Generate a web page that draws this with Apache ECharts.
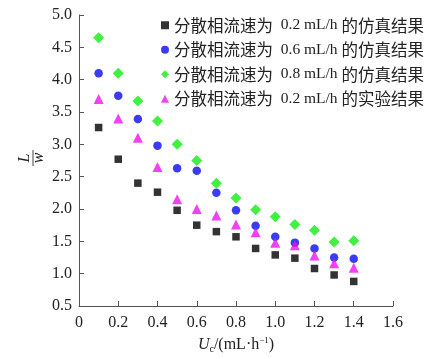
<!DOCTYPE html>
<html><head><meta charset="utf-8">
<script src="https://cdn.jsdelivr.net/npm/echarts@6/dist/echarts.min.js"></script>
<style>html,body{margin:0;padding:0;background:#fff}#c{width:440px;height:359px}</style>
</head><body><div id="c"></div>
<script>
const xValues = [0.1,0.2,0.3,0.4,0.5,0.6,0.7,0.8,0.9,1.0,1.1,1.2,1.3,1.4];
const sim02 = [3.26,2.77,2.40,2.26,1.98,1.75,1.65,1.57,1.39,1.29,1.24,1.08,0.98,0.88];
const sim06 = [4.10,3.75,3.39,2.98,2.63,2.59,2.25,1.98,1.74,1.57,1.48,1.39,1.25,1.23];
const sim08 = [4.65,4.10,3.67,3.36,3.00,2.75,2.40,2.17,1.99,1.88,1.76,1.67,1.49,1.51];
const exp02 = [3.70,3.40,3.10,2.65,2.15,2.00,1.90,1.76,1.64,1.48,1.44,1.28,1.16,1.09];
const seriesNames = ['分散相流速为 0.2 mL/h 的仿真结果','分散相流速为 0.6 mL/h 的仿真结果','分散相流速为 0.8 mL/h 的仿真结果','分散相流速为 0.2 mL/h 的实验结果'];
const xTicks = ['0','0.2','0.4','0.6','0.8','1.0','1.2','1.4','1.6'];

const serif = '"Liberation Serif",serif';
const cjk = '"Noto Sans CJK SC",sans-serif';
const pair = arr => xValues.map((x,i)=>[x,arr[i]]);
const chart = echarts.init(document.getElementById('c'));
const specs = [
  {data: sim02, symbol:'rect', size:7.5, color:'#000000'},
  {data: sim06, symbol:'circle', size:8.5, color:'#0a0aee'},
  {data: sim08, symbol:'diamond', size:11, color:'#11ee11'},
  {data: exp02, symbol:'triangle', size:10, color:'#ee11ee'}
];
// split legend name into rich text parts
const legendFmt = (name) => {
  const m = name.match(/^(\S+) (\S+ \S+) (\S+)$/);
  return '{c|' + m[1] + '}{l|  ' + m[2] + ' }{c|' + m[3] + '}';
};
chart.setOption({
  animation:false,
  grid:{left:79,right:47,top:15,bottom:52,containLabel:false},
  legend:{
    orient:'vertical', left:156, top:12, itemGap:8, itemWidth:8, itemHeight:8,
    formatter: legendFmt,
    textStyle:{color:'#222',fontSize:16,
      rich:{
        c:{fontFamily:cjk,fontSize:16.5,color:'#222'},
        l:{fontFamily:serif,fontSize:15.5,color:'#222'}
      }},
    data: seriesNames.map((n,i)=>({name:n, icon:specs[i].symbol,
      itemStyle:{color:specs[i].color}}))
  },
  xAxis:{
    type:'value', min:0, max:1.6, interval:0.2,
    axisLine:{show:true,lineStyle:{color:'#555',width:1}},
    axisTick:{show:true,inside:true,length:5,lineStyle:{color:'#555'}},
    splitLine:{show:false},
    axisLabel:{fontFamily:serif,fontSize:16,color:'#222',margin:9,
      formatter:(v)=>xTicks[Math.round(v/0.2)]},
    name:'{u|U}{s|c}{t|/(mL·h}{p|−1}{t|)}', nameLocation:'middle', nameGap:30,
    nameTextStyle:{rich:{
      u:{fontFamily:serif,fontStyle:'italic',fontSize:16,color:'#222'},
      s:{fontFamily:serif,fontSize:10,color:'#222',verticalAlign:'bottom',padding:[8,0,0,0]},
      t:{fontFamily:serif,fontSize:16,color:'#222'},
      p:{fontFamily:serif,fontSize:9,color:'#222',verticalAlign:'top',padding:[0,0,8,0]}
    }}
  },
  yAxis:{
    type:'value', min:0.5, max:5.0, interval:0.5,
    axisLine:{show:true,lineStyle:{color:'#555',width:1}},
    axisTick:{show:true,inside:true,length:5,lineStyle:{color:'#555'}},
    splitLine:{show:false},
    axisLabel:{fontFamily:serif,fontSize:16,color:'#222',margin:7,
      formatter:(v)=>v.toFixed(1)}
  },
  graphic:[{
    type:'group', x:33, y:158, rotation:Math.PI/2,
    children:[
      {type:'text', x:0, y:-8, style:{text:'L',font:'italic 16px "Liberation Serif"',fill:'#222',align:'center',verticalAlign:'middle'}},
      {type:'line', shape:{x1:-8,y1:0,x2:8,y2:0}, style:{stroke:'#444',lineWidth:1}},
      {type:'text', x:0, y:6, style:{text:'w',font:'italic 16px "Liberation Serif"',fill:'#222',align:'center',verticalAlign:'middle'}}
    ]
  }],
  series: specs.map((s,i)=>({
    name:seriesNames[i], type:'scatter', symbol:s.symbol, symbolSize:s.size,
    itemStyle:{color:s.color}, data:pair(s.data)
  }))
});
</script></body></html>
